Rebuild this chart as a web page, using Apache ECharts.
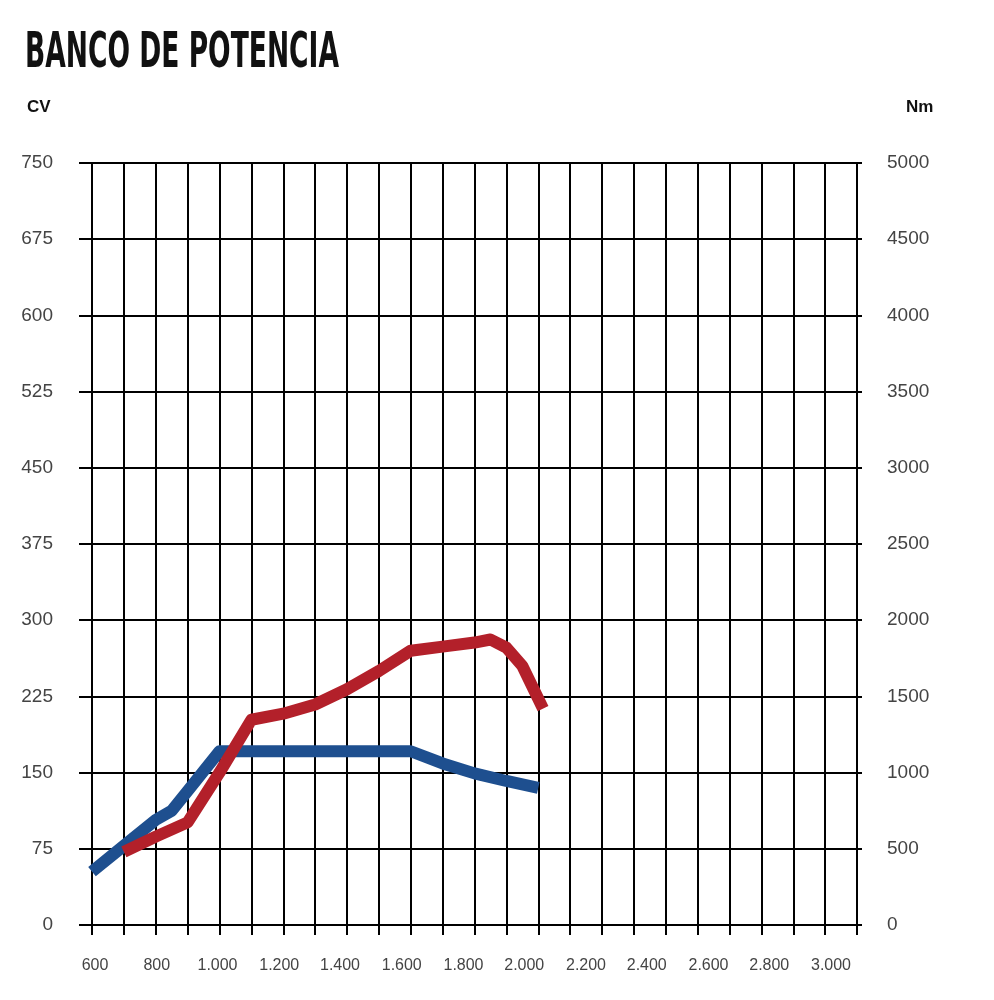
<!DOCTYPE html>
<html>
<head>
<meta charset="utf-8">
<script src="https://cdn.jsdelivr.net/npm/echarts@6/dist/echarts.min.js"></script>
<style>
  html, body { margin: 0; padding: 0; background: #fff; }
  #chart { width: 994px; height: 1000px; }
</style>
</head>
<body>
<div id="chart"></div>
<script>
// datos
var rpmMin = 600, rpmMax = 3000;
var rpmLabels = [600, 800, 1000, 1200, 1400, 1600, 1800, 2000, 2200, 2400, 2600, 2800, 3000];
var cvTicks = [0, 75, 150, 225, 300, 375, 450, 525, 600, 675, 750];
var nmTicks = [0, 500, 1000, 1500, 2000, 2500, 3000, 3500, 4000, 4500, 5000];

// potencia (CV) - linea roja
var potenciaRpm = [700, 800, 900, 1000, 1100, 1200, 1300, 1400, 1500, 1600, 1700, 1800, 1850, 1900, 1950, 2015];
var potenciaCv  = [72, 87, 101, 150, 202, 208, 217, 232, 250, 270, 274, 278, 281, 273, 255, 213];

// par (Nm) - linea azul
var parRpm = [600, 700, 800, 850, 900, 1000, 1600, 1700, 1800, 1900, 2000];
var parNm  = [350, 520, 690, 750, 880, 1140, 1140, 1060, 995, 945, 900];

function zip(a, b) {
    var out = [];
    for (var i = 0; i < a.length; i++) out.push([a[i], b[i]]);
    return out;
}

function fmtRpm(v) {
    if (v < 1000) return String(v);
    return Math.floor(v / 1000) + '.' + String(v % 1000).padStart(3, '0');
}

// en el original las etiquetas de rpm se van corriendo a la izquierda
// respecto a la rejilla; se imita con padding en rich text
var labelRich = {};
rpmLabels.forEach(function (v, i) {
    var shift = Math.round(3 - (v - 600) * 29 / 2400);
    labelRich['r' + i] = {
        fontFamily: '"Liberation Sans", Arial',
        fontSize: 16,
        color: '#444',
        padding: shift >= 0 ? [0, 0, 0, 2 * shift] : [0, -2 * shift, 0, 0]
    };
});

// el titulo es una fuente condensada, se ajusta el ancho con scaleX
var titleText = 'BANCO DE POTENCIA';
var titleFont = 'bold 50px "DejaVu Sans Condensed", "DejaVu Sans"';
var ctx = document.createElement('canvas').getContext('2d');
ctx.font = titleFont;
var titleScale = 314 / ctx.measureText(titleText).width;

var myChart = echarts.init(document.getElementById('chart'));

var option = {
    animation: false,
    backgroundColor: '#fff',
    graphic: [
        {
            type: 'text', left: 25, top: 29, scaleX: titleScale,
            style: { text: titleText, font: titleFont, fill: '#111' }
        },
        {
            type: 'text', left: 27, top: 99,
            style: { text: 'CV', font: 'bold 17px "Liberation Sans", Arial', fill: '#111' }
        },
        {
            type: 'text', left: 906, top: 99,
            style: { text: 'Nm', font: 'bold 17px "Liberation Sans", Arial', fill: '#111' }
        }
    ],
    grid: { left: 92, right: 137, top: 163, bottom: 75 },
    xAxis: {
        type: 'value',
        min: rpmMin,
        max: rpmMax,
        interval: 100,
        axisLine: { show: true, lineStyle: { color: '#000', width: 2 } },
        axisTick: { show: true, length: 10, lineStyle: { color: '#000', width: 2 } },
        axisLabel: {
            margin: 33,
            fontFamily: '"Liberation Sans", Arial',
            fontSize: 16,
            color: '#444',
            rich: labelRich,
            formatter: function (v) {
                var i = rpmLabels.indexOf(v);
                if (i < 0) return '';
                return '{r' + i + '|' + fmtRpm(v) + '}';
            }
        },
        splitLine: { show: true, lineStyle: { color: '#000', width: 2 } }
    },
    yAxis: [
        {
            type: 'value',
            min: cvTicks[0],
            max: cvTicks[cvTicks.length - 1],
            interval: cvTicks[1] - cvTicks[0],
            axisLine: { show: true, lineStyle: { color: '#000', width: 2 } },
            axisTick: { show: true, length: 13, lineStyle: { color: '#000', width: 2 } },
            axisLabel: {
                margin: 39,
                fontFamily: '"Liberation Sans", Arial',
                fontSize: 19,
                color: '#444'
            },
            splitLine: { show: true, lineStyle: { color: '#000', width: 2 } }
        },
        {
            type: 'value',
            position: 'right',
            min: nmTicks[0],
            max: nmTicks[nmTicks.length - 1],
            interval: nmTicks[1] - nmTicks[0],
            axisLine: { show: true, lineStyle: { color: '#000', width: 2 } },
            axisTick: { show: true, length: 5, lineStyle: { color: '#000', width: 2 } },
            axisLabel: {
                margin: 30,
                fontFamily: '"Liberation Sans", Arial',
                fontSize: 19,
                color: '#444',
                formatter: function (v) { return String(v); }
            },
            splitLine: { show: false }
        }
    ],
    series: [
        {
            name: 'Par',
            type: 'line',
            yAxisIndex: 1,
            symbol: 'none',
            lineStyle: { color: '#1e4f8f', width: 12, join: 'round', cap: 'butt' },
            data: zip(parRpm, parNm)
        },
        {
            name: 'Potencia',
            type: 'line',
            yAxisIndex: 0,
            symbol: 'none',
            lineStyle: { color: '#b3202a', width: 12, join: 'round', cap: 'butt' },
            data: zip(potenciaRpm, potenciaCv)
        }
    ]
};

myChart.setOption(option);
</script>
</body>
</html>
